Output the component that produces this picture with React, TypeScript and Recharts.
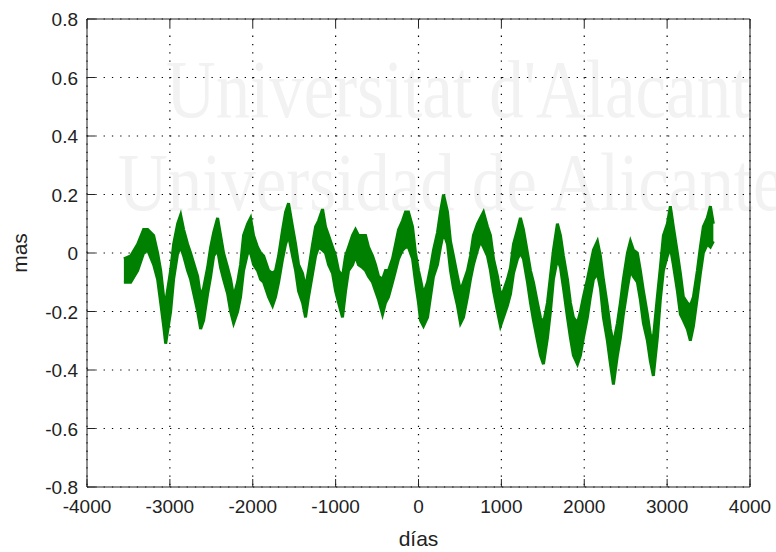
import React from "react";
import { ComposedChart, Area, XAxis, YAxis, CartesianGrid } from "recharts";

// sample days (x) with the top and bottom of the noisy band
const days = [
  -3555, -3473, -3389, -3317, -3268, -3196, -3148, -3111, -3075, -3051,
  -2991, -2955, -2906, -2870, -2834, -2786, -2750, -2665, -2629, -2593,
  -2545, -2508, -2472, -2424, -2388, -2352, -2303, -2267, -2231, -2183,
  -2147, -2111, -2062, -2026, -1990, -1942, -1905, -1869,
  -1809, -1761, -1725, -1688, -1640, -1604, -1568, -1520, -1483, -1447, -1399, -1363,
  -1327, -1278, -1242, -1206, -1158, -1122, -1085, -1037, -1001, -965,
  -917, -880, -844, -796, -760, -724, -675, -639, -603, -555,
  -519, -482, -434, -398, -362, -314, -277, -241, -193, -157,
  -121, -72, -36, 0,
  24, 60, 109, 145, 181, 229, 265, 302, 350, 386,
  422, 470, 507, 543, 591, 627, 663, 712, 748, 784,
  832, 868, 905, 953, 989, 1025, 1073, 1110, 1146, 1194,
  1230, 1266, 1315, 1351, 1387, 1435, 1471, 1508, 1556, 1592,
  1628, 1676, 1713, 1749, 1797, 1833, 1869,
  1918, 1954, 1990, 2038, 2074, 2111, 2159, 2195, 2231, 2279,
  2316, 2352, 2400, 2436, 2472, 2521, 2557, 2593, 2641, 2677,
  2714, 2762, 2798, 2834, 2882, 2918, 2955, 3003, 3039, 3075,
  3124, 3160, 3196, 3244, 3280, 3317, 3365, 3401, 3437, 3485, 3522, 3558,
];

const upper = [
  -0.02, -0.01, 0.03, 0.08, 0.08, 0.06, 0.0, -0.06, -0.15, -0.17,
  -0.06, 0.03, 0.1, 0.13, 0.08, 0.03, 0.0, -0.08, -0.15, -0.12,
  -0.05, 0.02, 0.07, 0.12, 0.06, 0.0, -0.05, -0.09, -0.15, -0.1,
  -0.04, 0.06, 0.1, 0.12, 0.06, 0.02, 0.0, -0.01,
  -0.06, -0.07, -0.06, -0.01, 0.08, 0.14, 0.17, 0.09, 0.03, -0.04, -0.07, -0.12,
  -0.06, 0.03, 0.09, 0.11, 0.15, 0.09, 0.06, 0.02, -0.01, -0.06,
  -0.08, -0.01, 0.02, 0.06, 0.08, 0.06, 0.06, 0.06, 0.02, -0.01,
  -0.04, -0.08, -0.09, -0.06, -0.06, -0.02, 0.03, 0.08, 0.11, 0.14,
  0.14, 0.09, 0.0, -0.06,
  -0.09, -0.14, -0.1, -0.05, 0.01, 0.07, 0.14, 0.2, 0.14, 0.04,
  -0.01, -0.08, -0.13, -0.1, -0.06, -0.01, 0.06, 0.1, 0.12, 0.14,
  0.09, 0.06, -0.02, -0.08, -0.14, -0.13, -0.09, -0.05, 0.03, 0.08,
  0.12, 0.08, 0.0, -0.06, -0.1, -0.17, -0.22, -0.24, -0.17, -0.08,
  0.01, 0.1, 0.06, -0.01, -0.09, -0.17, -0.22,
  -0.24, -0.2, -0.15, -0.09, -0.04, 0.01, 0.04, -0.01, -0.09, -0.18,
  -0.26, -0.31, -0.24, -0.17, -0.09, 0.0, 0.04, 0.01, 0.0, -0.06,
  -0.13, -0.21, -0.28, -0.29, -0.15, -0.05, 0.06, 0.1, 0.16, 0.09,
  0.0, -0.07, -0.15, -0.17, -0.18, -0.15, -0.06, 0.02, 0.09, 0.12, 0.16, 0.1,
];

const lower = [
  -0.1, -0.1, -0.06, 0.0, 0.01, -0.04, -0.09, -0.17, -0.25, -0.31,
  -0.2, -0.09, 0.0, 0.02, -0.01, -0.06, -0.09, -0.2, -0.26, -0.23,
  -0.14, -0.08, -0.01, 0.01, -0.05, -0.09, -0.14, -0.2, -0.24, -0.2,
  -0.15, -0.06, 0.0, 0.0, -0.04, -0.06, -0.09, -0.1,
  -0.15, -0.18, -0.15, -0.1, -0.02, 0.03, 0.06, -0.01, -0.06, -0.13, -0.17, -0.22,
  -0.15, -0.07, -0.01, 0.02, 0.01, 0.0, -0.04, -0.07, -0.13, -0.17,
  -0.22, -0.13, -0.06, -0.04, -0.01, -0.04, -0.05, -0.06, -0.08, -0.1,
  -0.13, -0.16, -0.21, -0.17, -0.15, -0.1, -0.06, -0.02, 0.01, 0.02,
  0.02, -0.02, -0.1, -0.17,
  -0.23, -0.25, -0.22, -0.15, -0.08, -0.04, 0.02, 0.07, 0.03, -0.06,
  -0.12, -0.18, -0.24, -0.22, -0.15, -0.09, -0.04, 0.01, 0.04, 0.02,
  -0.01, -0.06, -0.13, -0.2, -0.25, -0.22, -0.18, -0.14, -0.07, -0.02,
  0.0, -0.02, -0.1, -0.17, -0.23, -0.3, -0.35, -0.38, -0.29, -0.2,
  -0.09, -0.02, -0.05, -0.12, -0.22, -0.29, -0.35,
  -0.38, -0.35, -0.29, -0.22, -0.15, -0.09, -0.07, -0.12, -0.22, -0.3,
  -0.38, -0.45, -0.35, -0.29, -0.21, -0.12, -0.06, -0.08, -0.1, -0.16,
  -0.24, -0.3, -0.37, -0.42, -0.29, -0.16, -0.06, -0.01, 0.02, -0.04,
  -0.13, -0.21, -0.23, -0.26, -0.3, -0.25, -0.15, -0.07, 0.0, 0.03, 0.02, 0.04,
];

const xTicks = [-4000, -3000, -2000, -1000, 0, 1000, 2000, 3000, 4000];
const yTicks = [-0.8, -0.6, -0.4, -0.2, 0, 0.2, 0.4, 0.6, 0.8];
const yTickLabels = ["-0.8", "-0.6", "-0.4", "-0.2", "0", "0.2", "0.4", "0.6", "0.8"];

const data = days.map((d, i) => ({ day: d, band: [lower[i], upper[i]] }));

const FONT = "'Liberation Sans', Arial, sans-serif";
const INK = "#222";
const TICK = 8;

const BottomTick = (p: any) => (
  <g>
    <line x1={p.x} y1={p.y} x2={p.x} y2={p.y - TICK} stroke={INK} />
    <text x={p.x} y={p.y + 26} textAnchor="middle" fontFamily={FONT} fontSize={19} fill={INK}>
      {String(p.payload.value)}
    </text>
  </g>
);

const TopTick = (p: any) => <line x1={p.x} y1={p.y} x2={p.x} y2={p.y + TICK} stroke={INK} />;

const LeftTick = (p: any) => {
  const idx = yTicks.findIndex((t) => Math.abs(t - p.payload.value) < 1e-9);
  return (
    <g>
      <line x1={p.x} y1={p.y} x2={p.x + TICK} y2={p.y} stroke={INK} />
      <text x={p.x - 9} y={p.y + 7} textAnchor="end" fontFamily={FONT} fontSize={19} fill={INK}>
        {idx >= 0 ? yTickLabels[idx] : String(p.payload.value)}
      </text>
    </g>
  );
};

const RightTick = (p: any) => <line x1={p.x} y1={p.y} x2={p.x - TICK} y2={p.y} stroke={INK} />;

export default function App() {
  return (
    <div style={{ position: "absolute", left: 0, top: 0, width: 776, height: 552, background: "#fff" }}>
      <svg width={776} height={552} style={{ position: "absolute", left: 0, top: 0 }}>
        <text
          transform="translate(166,117) scale(0.84,1)"
          fontFamily="'Liberation Serif', 'Times New Roman', serif"
          fontSize={82}
          fill="#f2f2f2"
        >
          Universitat d'Alacant
        </text>
        <text
          transform="translate(118,210) scale(0.84,1)"
          fontFamily="'Liberation Serif', 'Times New Roman', serif"
          fontSize={82}
          fill="#f2f2f2"
        >
          Universidad de Alicante
        </text>
      </svg>
      <div style={{ position: "absolute", left: 0, top: 0 }}>
        <ComposedChart width={776} height={552} data={data} margin={{ top: 0, right: 0, bottom: 0, left: 0 }}>
          <CartesianGrid
            stroke="#000"
            strokeWidth={1.2}
            strokeDasharray="1.3 7"
            horizontalValues={yTicks}
            verticalValues={xTicks}
          />
          <XAxis
            dataKey="day"
            type="number"
            domain={[-4000, 4000]}
            ticks={xTicks}
            interval={0}
            height={65}
            tickSize={0}
            tickMargin={0}
            tickLine={false}
            axisLine={{ stroke: INK }}
            tick={BottomTick}
            label={(props: any) => {
              const vb = props.viewBox;
              return (
                <text
                  x={vb.x + vb.width / 2}
                  y={vb.y + 59}
                  textAnchor="middle"
                  fontFamily={FONT}
                  fontSize={21}
                  fill={INK}
                >
                  días
                </text>
              );
            }}
          />
          <XAxis
            xAxisId="top"
            orientation="top"
            dataKey="day"
            type="number"
            domain={[-4000, 4000]}
            ticks={xTicks}
            interval={0}
            height={19}
            tickSize={0}
            tickMargin={0}
            tickLine={false}
            axisLine={{ stroke: INK }}
            tick={TopTick}
          />
          <YAxis
            type="number"
            domain={[-0.8, 0.8]}
            ticks={yTicks}
            interval={0}
            width={87}
            tickSize={0}
            tickMargin={0}
            tickLine={false}
            axisLine={{ stroke: INK }}
            tick={LeftTick}
            allowDataOverflow
            label={(props: any) => {
              const vb = props.viewBox;
              const cx = vb.x + 19;
              const cy = vb.y + vb.height / 2;
              return (
                <text
                  x={cx}
                  y={cy}
                  transform={`rotate(-90 ${cx} ${cy})`}
                  textAnchor="middle"
                  dominantBaseline="central"
                  fontFamily={FONT}
                  fontSize={21}
                  fill={INK}
                >
                  mas
                </text>
              );
            }}
          />
          <YAxis
            yAxisId="right"
            orientation="right"
            type="number"
            domain={[-0.8, 0.8]}
            ticks={yTicks}
            interval={0}
            width={26}
            tickSize={0}
            tickMargin={0}
            tickLine={false}
            axisLine={{ stroke: INK }}
            tick={RightTick}
          />
          <Area
            dataKey="band"
            type="linear"
            stroke="#008000"
            strokeWidth={3}
            strokeLinejoin="miter"
            fill="#008000"
            fillOpacity={1}
            isAnimationActive={false}
            dot={false}
            activeDot={false}
          />
        </ComposedChart>
      </div>
    </div>
  );
}
